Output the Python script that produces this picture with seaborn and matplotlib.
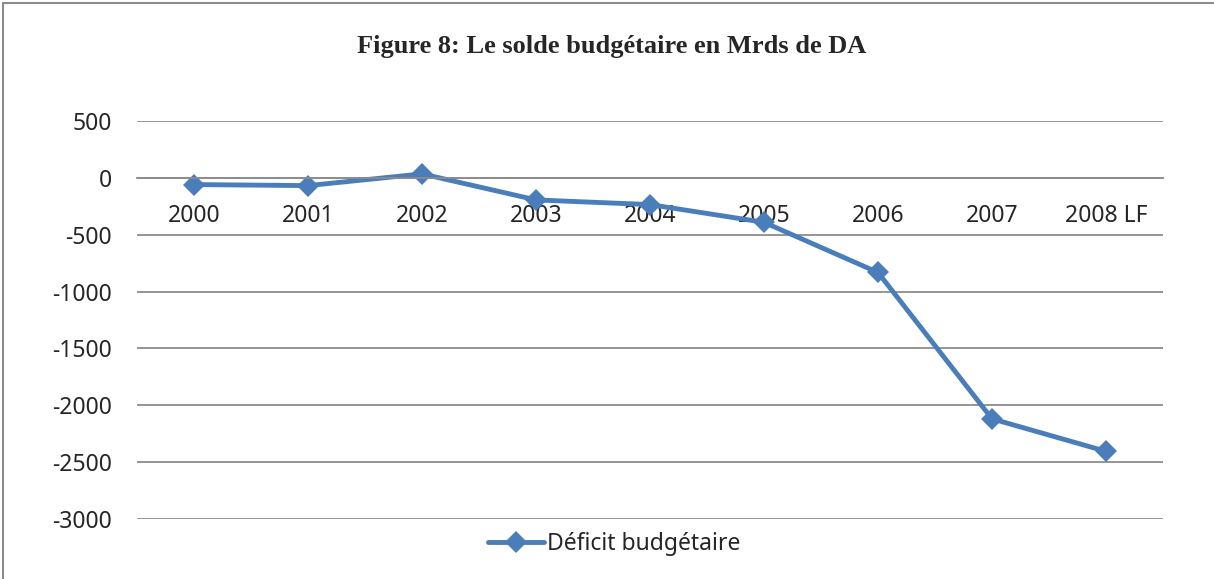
import pandas as pd
import matplotlib.pyplot as plt
import matplotlib.patches as patches
import seaborn as sns

# donnees
annees = ['2000', '2001', '2002', '2003', '2004', '2005', '2006', '2007', '2008 LF']
solde = [-59, -68, 35, -194, -235, -391, -832, -2119, -2405]
yticks = [500, 0, -500, -1000, -1500, -2000, -2500, -3000]

df = pd.DataFrame({'Annee': annees, 'Solde': solde})

sns.set_style('white')
plt.rcParams['font.family'] = ['Noto Sans', 'DejaVu Sans']
plt.rcParams['axes.unicode_minus'] = False

fig = plt.figure(figsize=(12.14, 5.79), dpi=100)
ax = fig.add_axes([0.1129, 0.1036, 0.8451, 0.6874])

sns.lineplot(data=df, x='Annee', y='Solde', ax=ax, color='#4A7EBB',
             linewidth=3.5, marker='D', markersize=11.5, markeredgewidth=0,
             label='Déficit budgétaire', sort=False)

ax.set_xlim(-0.5, len(annees) - 0.5)
ax.set_ylim(-3000, 500)
ax.set_yticks(yticks)
ax.yaxis.grid(True, color='#8C8C8C', linewidth=1.3)
ax.set_axisbelow(True)
for s in ['top', 'right', 'left']:
    ax.spines[s].set_visible(False)
# axe des categories place sur la ligne 0 comme dans Excel
ax.spines['bottom'].set_position(('data', 0))
ax.spines['bottom'].set_color('#8C8C8C')
ax.spines['bottom'].set_linewidth(1.3)
ax.tick_params(axis='x', length=0, pad=19, labelsize=16.5)
ax.tick_params(axis='y', length=0, pad=18, labelsize=16.5)
ax.set_xlabel('')
ax.set_ylabel('')

fig.text(0.504, 1 - 46 / 579, 'Figure 8: Le solde budgétaire en Mrds de DA',
         ha='center', va='center', fontsize=19, fontweight='bold',
         family='Liberation Serif')

leg = ax.legend(loc='center', bbox_to_anchor=(0.465, -0.064), frameon=False,
                fontsize=16.5, handlelength=2.45, handletextpad=0.15)

# cadre du graphique (haut et gauche visibles)
fig.patches.append(patches.Rectangle((3 / 1214, -0.5), 1.5, 1.5 - 3 / 579,
                                     transform=fig.transFigure, fill=False,
                                     edgecolor='#8C8C8C', linewidth=1.5))

fig.savefig('out.png', dpi=100)
